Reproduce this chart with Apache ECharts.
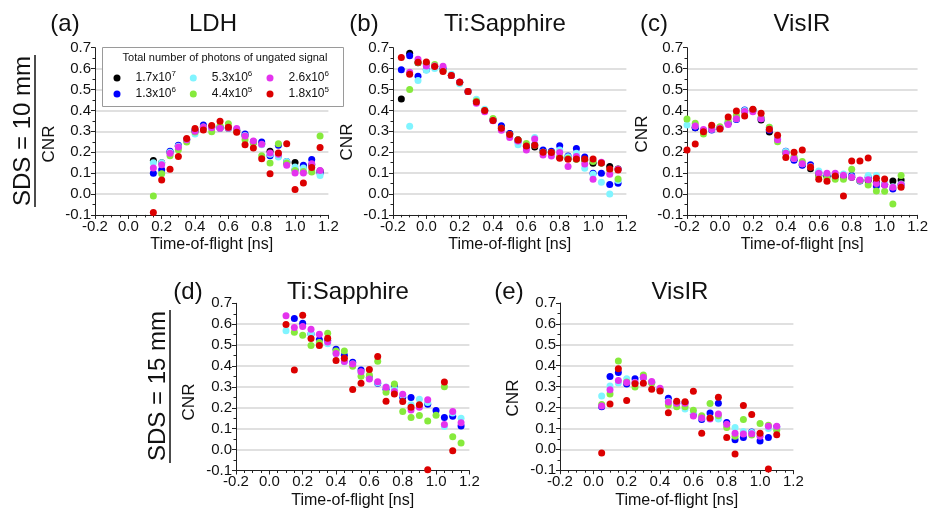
<!DOCTYPE html>
<html lang="en">
<head>
<meta charset="UTF-8">
<title>CNR vs time-of-flight</title>
<script src="https://cdn.jsdelivr.net/npm/echarts@6/dist/echarts.min.js"></script>
<style>
    body { margin: 0; padding: 0; background: #fff; }
    #chart { width: 931px; height: 510px; }
</style>
</head>
<body>
<div id="chart"></div>
<script>
    // series labels (legend) and colours
    const seriesNames = ['1.7x10^7', '1.3x10^6', '5.3x10^6', '4.4x10^5', '2.6x10^6', '1.8x10^5'];
    const seriesColors = ['#000000', '#0000ff', '#80f4ff', '#86ea3c', '#e433ee', '#dc0000'];
    const xTicks = [-0.2, 0.0, 0.2, 0.4, 0.6, 0.8, 1.0, 1.2];
    const yTicks = [-0.1, 0.0, 0.1, 0.2, 0.3, 0.4, 0.5, 0.6, 0.7];

    // (a) LDH, SDS = 10 mm
    const aTime = [0.15, 0.2, 0.25, 0.3, 0.35, 0.4, 0.45, 0.5, 0.55, 0.6, 0.65, 0.7, 0.75, 0.8, 0.85, 0.9, 0.95, 1.0, 1.05, 1.1, 1.15];
    const aBlack = [0.16, 0.15, 0.20, 0.228, 0.26, 0.30, 0.32, 0.32, 0.315, 0.314, 0.305, 0.28, 0.25, 0.24, 0.204, 0.183, 0.15, 0.151, 0.132, 0.14, 0.11];
    const aBlue = [0.099, 0.116, 0.204, 0.233, 0.26, 0.306, 0.33, 0.32, 0.32, 0.318, 0.303, 0.287, 0.247, 0.249, 0.183, 0.233, 0.156, 0.116, 0.137, 0.165, 0.10];
    const aCyan = [0.15, 0.15, 0.2, 0.228, 0.258, 0.287, 0.32, 0.318, 0.314, 0.314, 0.307, 0.28, 0.25, 0.236, 0.19, 0.177, 0.155, 0.129, 0.124, 0.11, 0.088];
    const aGreen = [-0.01, 0.097, 0.183, 0.212, 0.249, 0.297, 0.319, 0.298, 0.327, 0.336, 0.298, 0.26, 0.244, 0.183, 0.148, 0.241, 0.148, 0.112, 0.108, 0.105, 0.277];
    const aMagenta = [0.124, 0.14, 0.195, 0.225, 0.26, 0.30, 0.32, 0.317, 0.314, 0.316, 0.313, 0.278, 0.254, 0.238, 0.196, 0.19, 0.137, 0.10, 0.10, 0.145, 0.113];
    const aRed = [-0.088, 0.067, 0.118, 0.18, 0.265, 0.313, 0.306, 0.328, 0.348, 0.319, 0.295, 0.236, 0.22, 0.169, 0.097, 0.196, 0.241, 0.021, 0.053, 0.127, 0.222];

    // (b) Ti:Sapphire, SDS = 10 mm
    const bTime = [-0.15, -0.1, -0.05, 0.0, 0.05, 0.1, 0.15, 0.2, 0.25, 0.3, 0.35, 0.4, 0.45, 0.5, 0.55, 0.6, 0.65, 0.7, 0.75, 0.8, 0.85, 0.9, 0.95, 1.0, 1.05, 1.1, 1.15];
    const bBlack = [0.455, 0.673, 0.628, 0.624, 0.61, 0.595, 0.567, 0.535, 0.49, 0.445, 0.40, 0.355, 0.32, 0.288, 0.26, 0.23, 0.225, 0.206, 0.198, 0.175, 0.17, 0.168, 0.163, 0.147, 0.148, 0.131, 0.12];
    const bBlue = [0.595, 0.662, 0.563, 0.595, 0.61, 0.60, 0.567, 0.533, 0.49, 0.445, 0.40, 0.353, 0.326, 0.289, 0.25, 0.226, 0.236, 0.21, 0.204, 0.231, 0.182, 0.218, 0.177, 0.099, 0.099, 0.046, 0.051];
    const bCyan = [null, 0.324, 0.543, 0.592, 0.60, 0.595, 0.573, 0.527, 0.49, 0.453, 0.405, 0.352, 0.31, 0.28, 0.236, 0.235, 0.27, 0.20, 0.195, 0.21, 0.178, 0.195, 0.123, 0.094, 0.056, 0.0, 0.065];
    const bGreen = [null, 0.50, 0.629, 0.62, 0.62, 0.59, 0.567, 0.535, 0.49, 0.445, 0.40, 0.361, 0.315, 0.285, 0.258, 0.242, 0.233, 0.20, 0.198, 0.179, 0.17, 0.166, 0.163, 0.155, 0.148, 0.115, 0.072];
    const bMagenta = [null, 0.582, 0.645, 0.613, 0.613, 0.611, 0.567, 0.536, 0.49, 0.434, 0.393, 0.35, 0.305, 0.27, 0.254, 0.21, 0.263, 0.187, 0.182, 0.198, 0.131, 0.179, 0.144, 0.07, 0.152, 0.094, 0.118];
    const bRed = [0.653, 0.573, 0.63, 0.632, 0.61, 0.586, 0.567, 0.535, 0.49, 0.44, 0.40, 0.352, 0.315, 0.285, 0.258, 0.23, 0.233, 0.20, 0.198, 0.171, 0.166, 0.168, 0.168, 0.167, 0.148, 0.12, 0.115];

    // (c) VisIR, SDS = 10 mm
    const cTime = [-0.2, -0.15, -0.1, -0.05, 0.0, 0.05, 0.1, 0.15, 0.2, 0.25, 0.3, 0.35, 0.4, 0.45, 0.5, 0.55, 0.6, 0.65, 0.7, 0.75, 0.8, 0.85, 0.9, 0.95, 1.0, 1.05, 1.1];
    const cBlack = [null, 0.317, 0.303, 0.31, 0.314, 0.34, 0.36, 0.40, 0.402, 0.354, 0.297, 0.263, 0.198, 0.165, 0.14, 0.121, 0.09, 0.085, 0.085, 0.083, 0.08, 0.065, 0.064, 0.056, 0.045, 0.062, 0.067];
    const cBlue = [null, 0.317, 0.303, 0.306, 0.314, 0.34, 0.357, 0.402, 0.402, 0.36, 0.305, 0.263, 0.204, 0.161, 0.137, 0.14, 0.103, 0.088, 0.086, 0.088, 0.088, 0.062, 0.08, 0.038, 0.045, 0.024, 0.045];
    const cCyan = [0.33, 0.325, 0.303, 0.31, 0.314, 0.345, 0.36, 0.40, 0.402, 0.362, 0.319, 0.268, 0.203, 0.17, 0.145, 0.13, 0.11, 0.095, 0.095, 0.096, 0.082, 0.065, 0.088, 0.088, 0.05, 0.035, 0.048];
    const cGreen = [0.359, 0.338, 0.287, 0.319, 0.322, 0.352, 0.376, 0.392, 0.402, 0.367, 0.319, 0.25, 0.195, 0.179, 0.155, 0.13, 0.086, 0.075, 0.07, 0.07, 0.118, 0.064, 0.043, 0.014, 0.013, -0.048, 0.088];
    const cMagenta = [null, 0.325, 0.309, 0.31, 0.314, 0.333, 0.36, 0.395, 0.394, 0.36, 0.31, 0.26, 0.195, 0.17, 0.145, 0.13, 0.099, 0.099, 0.099, 0.09, 0.08, 0.067, 0.068, 0.05, 0.043, 0.032, 0.046];
    const cRed = [0.21, 0.239, 0.298, 0.329, 0.311, 0.368, 0.397, 0.373, 0.405, 0.386, 0.31, 0.281, 0.175, 0.20, 0.211, 0.128, 0.07, 0.061, 0.086, -0.01, 0.158, 0.158, 0.172, 0.075, 0.072, null, 0.032];

    // (d) Ti:Sapphire, SDS = 15 mm (no 1.7x10^7 data)
    const dTime = [0.1, 0.15, 0.2, 0.25, 0.3, 0.35, 0.4, 0.45, 0.5, 0.55, 0.6, 0.65, 0.7, 0.75, 0.8, 0.85, 0.9, 0.95, 1.0, 1.05, 1.1, 1.15];
    const dBlack = [];
    const dBlue = [null, 0.627, 0.604, 0.553, 0.526, 0.523, 0.48, 0.451, 0.418, 0.381, 0.346, 0.317, 0.289, 0.305, 0.25, 0.249, 0.21, 0.217, 0.187, 0.153, 0.159, 0.113];
    const dCyan = [0.569, null, null, 0.555, 0.51, 0.507, 0.46, 0.42, 0.41, 0.37, 0.34, 0.32, 0.30, 0.29, 0.26, 0.215, 0.241, 0.225, null, 0.11, 0.175, 0.15];
    const dGreen = [null, 0.561, 0.547, 0.498, 0.512, 0.557, 0.472, 0.472, 0.399, 0.351, 0.357, 0.423, 0.274, 0.314, 0.182, 0.153, 0.163, 0.137, 0.164, 0.301, 0.061, 0.032];
    const dMagenta = [0.641, 0.584, 0.589, 0.576, 0.552, 0.515, 0.46, 0.421, 0.41, 0.373, 0.338, 0.325, 0.298, 0.278, 0.265, 0.19, 0.203, 0.238, null, 0.12, 0.182, 0.129];
    const dRed = [0.598, 0.381, 0.643, 0.531, 0.498, 0.533, 0.426, 0.437, 0.287, 0.317, 0.383, 0.445, 0.231, 0.266, 0.23, 0.203, 0.214, -0.097, null, 0.324, -0.006, null];

    // (e) VisIR, SDS = 15 mm (no 1.7x10^7 data)
    const eTime = [0.05, 0.1, 0.15, 0.2, 0.25, 0.3, 0.35, 0.4, 0.45, 0.5, 0.55, 0.6, 0.65, 0.7, 0.75, 0.8, 0.85, 0.9, 0.95, 1.0, 1.05, 1.1];
    const eBlack = [];
    const eBlue = [0.204, 0.348, 0.368, 0.313, 0.338, 0.344, 0.32, 0.285, 0.244, 0.222, 0.223, 0.167, 0.142, 0.174, 0.22, 0.128, 0.046, 0.056, 0.083, 0.04, 0.057, 0.107];
    const eCyan = [0.255, 0.303, 0.317, 0.337, 0.32, 0.345, 0.32, 0.285, 0.23, 0.215, 0.193, 0.175, 0.15, 0.15, 0.145, 0.115, 0.104, 0.085, 0.08, 0.07, 0.099, 0.1];
    const eGreen = [0.214, 0.265, 0.423, 0.322, 0.298, 0.356, 0.317, 0.285, 0.212, 0.203, 0.203, 0.187, 0.161, 0.219, 0.16, 0.104, 0.062, 0.142, 0.069, 0.124, 0.115, 0.091];
    const eMagenta = [0.207, 0.285, 0.329, 0.32, 0.32, 0.345, 0.324, 0.292, 0.226, 0.22, 0.22, 0.159, 0.15, 0.145, 0.169, 0.12, 0.077, 0.073, 0.075, 0.062, 0.11, 0.11];
    const eRed = [-0.018, 0.217, 0.386, 0.233, 0.314, 0.316, 0.287, 0.279, 0.175, 0.23, 0.228, 0.278, 0.077, 0.15, 0.249, 0.056, -0.022, 0.209, 0.166, 0.077, -0.094, 0.07];

    const panels = [
        { time: aTime, vals: [aBlack, aBlue, aCyan, aGreen, aMagenta, aRed] },
        { time: bTime, vals: [bBlack, bBlue, bCyan, bGreen, bMagenta, bRed] },
        { time: cTime, vals: [cBlack, cBlue, cCyan, cGreen, cMagenta, cRed] },
        { time: dTime, vals: [dBlack, dBlue, dCyan, dGreen, dMagenta, dRed] },
        { time: eTime, vals: [eBlack, eBlue, eCyan, eGreen, eMagenta, eRed] }
    ];

    const FONT = '"Liberation Sans", Arial, sans-serif';
    const grids = [
        { left: 95, top: 47.7, width: 233.4, height: 167.2 },
        { left: 393, top: 47.7, width: 233.4, height: 167.2 },
        { left: 687, top: 47.7, width: 233.4, height: 167.2 },
        { left: 236, top: 303.3, width: 233.4, height: 167.2 },
        { left: 560, top: 303, width: 233.4, height: 167.2 }
    ];

    // draw order: which series go on top
    const drawOrder = [0, 2, 1, 3, 4, 5];

    function buildSeries() {
        const out = [];
        panels.forEach(function (p, pi) {
            drawOrder.forEach(function (si) {
                const vals = p.vals[si];
                const data = [];
                for (let i = 0; i < vals.length; i++) {
                    if (vals[i] !== null && vals[i] !== undefined) data.push([p.time[i], vals[i]]);
                }
                out.push({
                    type: 'scatter',
                    name: seriesNames[si],
                    xAxisIndex: pi,
                    yAxisIndex: pi,
                    symbol: 'circle',
                    symbolSize: 7,
                    itemStyle: { color: seriesColors[si], opacity: 1 },
                    emphasis: { disabled: true },
                    z: 2 + si * 0.01,
                    data: data
                });
            });
        });
        return out;
    }

    const splitColors = yTicks.map(function (v, i) {
        return (i === 0 || i === yTicks.length - 1) ? 'rgba(0,0,0,0)' : '#d6d6d6';
    });

    const xAxes = grids.map(function (g, i) {
        return {
            gridIndex: i,
            type: 'value',
            min: xTicks[0], max: xTicks[xTicks.length - 1], interval: 0.2,
            name: 'Time-of-flight [ns]',
            nameLocation: 'middle',
            nameGap: 22,
            nameTextStyle: { fontSize: 16, color: '#111', fontFamily: FONT },
            axisLine: { onZero: false, lineStyle: { color: '#222', width: 1 } },
            axisTick: { inside: false, length: 4, lineStyle: { color: '#222' } },
            minorTick: { show: true, splitNumber: 4, length: 2.5, lineStyle: { color: '#222' } },
            axisLabel: { fontSize: 15, color: '#111', margin: 4, fontFamily: FONT,
                formatter: function (v) { return v.toFixed(1); } },
            splitLine: { show: false }
        };
    });

    const yAxes = grids.map(function (g, i) {
        return {
            gridIndex: i,
            type: 'value',
            min: yTicks[0], max: yTicks[yTicks.length - 1], interval: 0.1,
            axisLine: { show: true, onZero: false, lineStyle: { color: '#222', width: 1 } },
            axisTick: { show: true, inside: false, length: 4, lineStyle: { color: '#222' } },
            minorTick: { show: true, splitNumber: 2, length: 2.5, lineStyle: { color: '#222' } },
            axisLabel: { fontSize: 15, color: '#111', margin: 4, fontFamily: FONT,
                formatter: function (v) { return v.toFixed(1); } },
            splitLine: { show: true, lineStyle: { color: splitColors, width: 1.5 } }
        };
    });

    function txt(x, y, text, size, rot) {
        return {
            type: 'text', x: x, y: y, rotation: rot || 0, z: 20,
            style: { text: text, fontSize: size, fontFamily: FONT, fill: '#111',
                textAlign: 'center', textVerticalAlign: 'middle' }
        };
    }

    const R = Math.PI / 2;
    const graphics = [
        // panel titles
        txt(65, 24, '(a)', 24), txt(213, 24, 'LDH', 24),
        txt(364, 24, '(b)', 24), txt(505, 24, 'Ti:Sapphire', 24),
        txt(654, 24, '(c)', 24), txt(802, 24, 'VisIR', 24),
        txt(188, 292, '(d)', 24), txt(348, 292, 'Ti:Sapphire', 24),
        txt(509, 292, '(e)', 24), txt(680, 292, 'VisIR', 24),
        // y axis names
        txt(49, 144, 'CNR', 17, R), txt(347, 142, 'CNR', 17, R), txt(642, 134, 'CNR', 17, R),
        txt(189, 402, 'CNR', 17, R), txt(513, 398, 'CNR', 17, R),
        // row labels
        txt(23, 131, 'SDS = 10 mm', 24, R), txt(158, 386, 'SDS = 15 mm', 24, R),
        { type: 'line', z: 20, shape: { x1: 35, y1: 55, x2: 35, y2: 207 }, style: { stroke: '#111', lineWidth: 1.5 } },
        { type: 'line', z: 20, shape: { x1: 170, y1: 310, x2: 170, y2: 463 }, style: { stroke: '#111', lineWidth: 1.5 } },
        // legend box
        { type: 'rect', z: 8, shape: { x: 102.5, y: 47.5, width: 241, height: 59 },
            style: { fill: '#fff', stroke: '#9a9a9a', lineWidth: 1 } },
        txt(225, 58, 'Total number of photons of ungated signal', 11)
    ];

    function legendAt(left, names) {
        return {
            left: left, top: 70, orient: 'vertical', padding: 0, itemGap: 2,
            icon: 'circle', itemWidth: 7, itemHeight: 7, selectedMode: false, z: 12,
            data: names,
            formatter: function (n) {
                const parts = n.split('^');
                return '{a|' + parts[0] + '}{s|' + parts[1] + '}';
            },
            textStyle: {
                rich: {
                    a: { fontSize: 12, lineHeight: 16, color: '#111', fontFamily: FONT, padding: [0, 0, 0, 10] },
                    s: { fontSize: 8, lineHeight: 8, verticalAlign: 'top', color: '#111', fontFamily: FONT }
                }
            }
        };
    }

    const chart = echarts.init(document.getElementById('chart'));
    chart.setOption({
        animation: false,
        backgroundColor: '#fff',
        grid: grids,
        xAxis: xAxes,
        yAxis: yAxes,
        legend: [
            legendAt(113.5, [seriesNames[0], seriesNames[1]]),
            legendAt(189.8, [seriesNames[2], seriesNames[3]]),
            legendAt(266.5, [seriesNames[4], seriesNames[5]])
        ],
        graphic: graphics,
        series: buildSeries()
    });
</script>
</body>
</html>
